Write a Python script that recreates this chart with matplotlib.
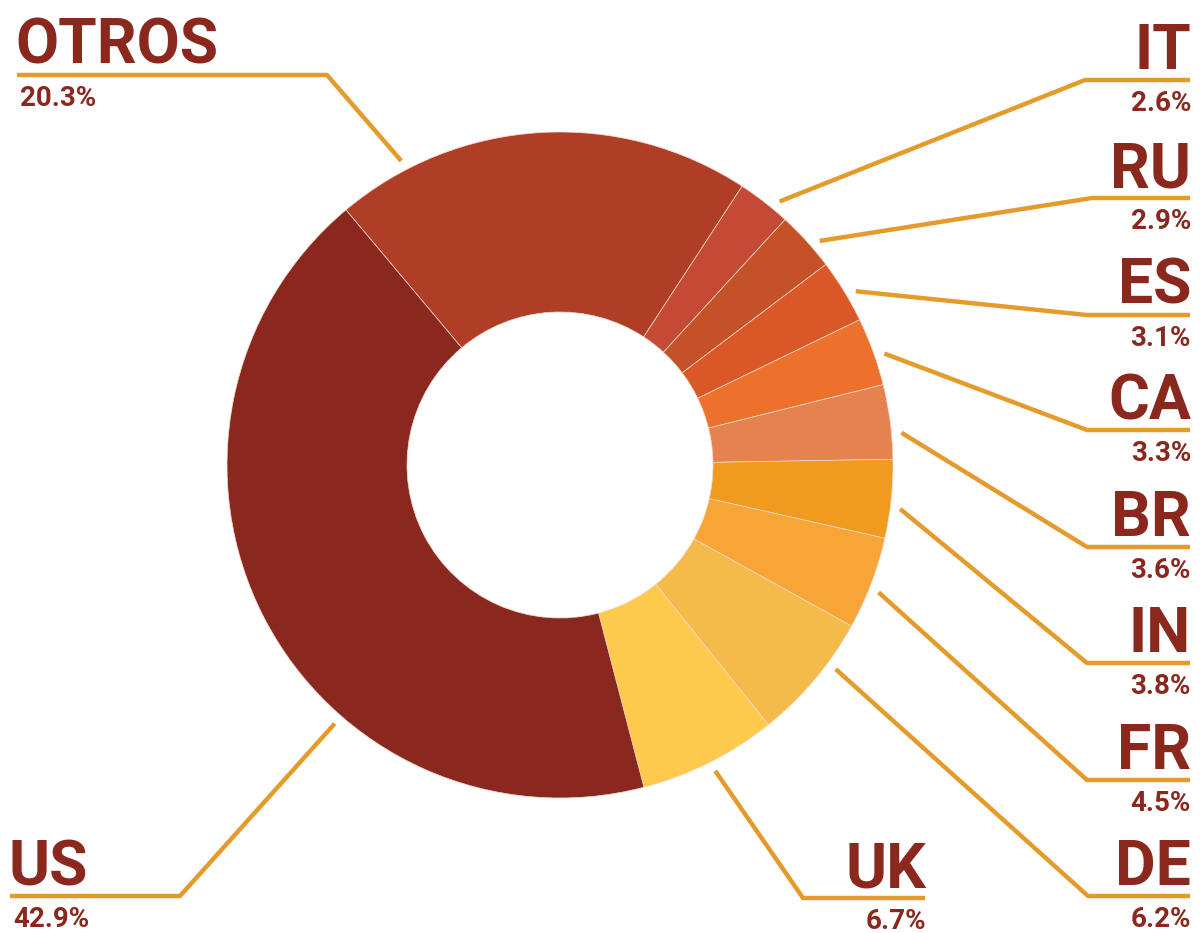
import numpy as np
import matplotlib.pyplot as plt

# Cuota por país (%), en el orden en que se dibuja la dona (sentido horario)
paises = ['OTROS', 'IT', 'RU', 'ES', 'CA', 'BR', 'IN', 'FR', 'DE', 'UK', 'US']
cuotas = [20.3, 2.6, 2.9, 3.1, 3.3, 3.6, 3.8, 4.5, 6.2, 6.7, 42.9]
colores = ['#B03E27', '#C44A35', '#C55127', '#DA5827', '#EC712D', '#E68150',
           '#F09A20', '#F7A537', '#F4BB4A', '#FECA4E', '#8A281F']

# Posición de cada etiqueta (px desde arriba): lado, y del subrayado,
# x del codo, x del extremo y punto del sector donde nace la guía
etiquetas = {
    'OTROS': ('izq', 75, 327, 17, 0.17),
    'IT':    ('der', 80, 1085, 1190, 0.71),
    'RU':    ('der', 198, 1092, 1190, 0.64),
    'ES':    ('der', 315, 1087, 1190, 0.59),
    'CA':    ('der', 430, 1087, 1190, 0.58),
    'BR':    ('der', 547, 1087, 1190, 0.66),
    'IN':    ('der', 663, 1087, 1190, 0.61),
    'FR':    ('der', 780, 1087, 1190, 0.56),
    'DE':    ('der', 896, 1088, 1190, 0.34),
    'UK':    ('der', 898, 803, 925, 0.49),
    'US':    ('izq', 896, 180, 10, 0.36),
}

W, H = 1204, 933
cx, cy = 560, H - 465
R, r_in = 333, 153

color_texto = '#8B281E'
color_linea = '#E59B2B'

fig = plt.figure(figsize=(W / 100, H / 100), dpi=100)
ax = fig.add_axes([0, 0, 1, 1])

wedges, _ = ax.pie(cuotas, colors=colores, startangle=130, counterclock=False,
                   radius=R, center=(cx, cy),
                   wedgeprops=dict(width=R - r_in, edgecolor='#F3D9C8', linewidth=0.5))

ax.set_xlim(0, W)
ax.set_ylim(0, H)
ax.set_aspect('auto')
ax.axis('off')

for w, pais, valor in zip(wedges, paises, cuotas):
    lado, y_sub, x_codo, x_fin, frac = etiquetas[pais]
    # ángulo dentro del sector, medido desde su inicio en sentido horario
    ang = np.deg2rad(w.theta2 - frac * (w.theta2 - w.theta1))
    ax0 = cx + (R + 10) * np.cos(ang)
    ay0 = cy + (R + 10) * np.sin(ang)
    yl = H - y_sub
    ax.plot([ax0, x_codo, x_fin], [ay0, yl, yl], color=color_linea, lw=3.2,
            solid_capstyle='butt', solid_joinstyle='miter')

    if lado == 'der':
        x_txt, ha = max(x_codo, x_fin) + 1, 'right'
        x_pct = x_txt
    else:
        x_txt, ha = x_fin - 2, 'left'
        x_pct = x_fin + 3
    ax.text(x_txt, yl + 11, pais, ha=ha, va='baseline', fontsize=45,
            fontweight='bold', family='Roboto', color=color_texto)
    ax.text(x_pct, yl - 31, f'{valor:.1f}%', ha=ha, va='baseline', fontsize=20,
            fontweight='bold', family='Roboto', color=color_texto)

fig.savefig('out.png', dpi=100, facecolor='white')
